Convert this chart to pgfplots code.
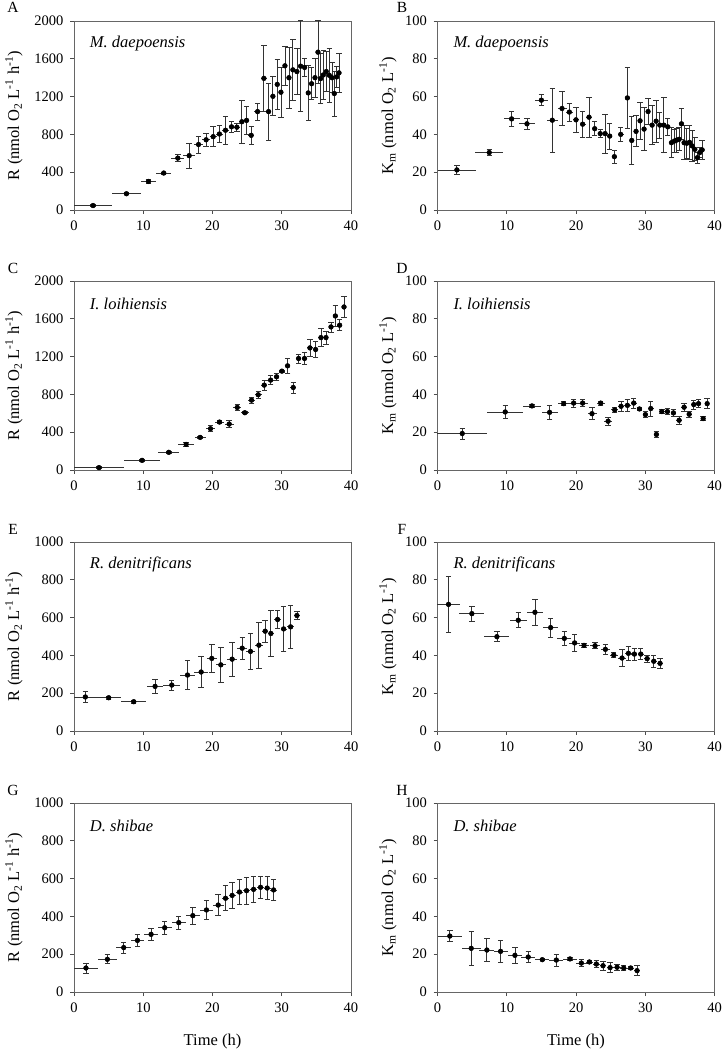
\documentclass[border=0pt]{standalone}
\usepackage{fontspec}
\setmainfont{Liberation Serif}
\usepackage{pgfplots}
\usepackage{pgfplotstable}
\pgfplotsset{compat=1.18}

\pgfplotstableread{
x y ex ey
2.75 47 2.8 8
7.57 172 2.05 10
10.75 302 1.1 20
12.96 391 1.1 10
14.99 549 0.95 36
16.63 575 0.85 133
17.98 693 0.65 90
19.08 743 0.55 68
20.10 776 0.5 108
21.00 804 0.45 90
21.88 844 0.45 149
22.75 880 0.4 57
23.52 876 0.38 45
24.24 934 0.35 226
24.92 948 0.34 149
25.59 790 0.4 95
26.51 1041 0.45 92
27.42 1393 0.4 345
28.10 1041 0.32 302
28.72 1203 0.31 206
29.35 1329 0.3 268
29.88 1246 0.28 266
30.46 1526 0.28 206
31.04 1400 0.28 323
31.61 1483 0.28 320
32.19 1465 0.28 242
32.72 1522 0.27 483
33.30 1508 0.27 99
33.83 1239 0.25 291
34.31 1336 0.25 171
34.80 1400 0.23 205
35.23 1670 0.2 334
35.61 1390 0.2 266
36.00 1429 0.2 257
36.43 1465 0.22 215
36.87 1425 0.2 287
37.25 1400 0.18 158
37.59 1232 0.17 237
37.93 1408 0.17 108
38.27 1451 0.17 203
}\tA

\pgfplotstableread{
x y ex ey
2.80 21.2 2.77 2.5
7.47 30.4 2.05 1.7
10.70 48.2 1.15 4.0
12.92 45.6 1.1 3.0
15.00 58.1 0.95 3.0
16.58 47.5 0.8 17
17.98 53.7 0.65 9
19.04 51.8 0.55 4.7
20.00 47.7 0.5 6.8
20.96 45.4 0.45 6.8
21.88 49.1 0.45 10.7
22.70 43.0 0.4 3.7
23.50 40.4 0.38 2.2
24.20 40.4 0.35 10.4
24.87 39.1 0.34 6.9
25.54 28.2 0.4 3.5
26.46 40.0 0.45 3.6
27.42 59.3 0.4 16
28.05 36.8 0.32 12.9
28.67 41.6 0.31 8.2
29.25 47.2 0.3 9.6
29.83 42.8 0.28 11.4
30.41 52.1 0.28 6.9
30.99 44.9 0.28 10.3
31.57 47.0 0.28 11.1
32.10 44.9 0.28 6.8
32.68 44.9 0.27 14.6
33.25 44.0 0.27 4.5
33.78 35.6 0.25 7.9
34.22 36.5 0.2 6.1
34.55 37.0 0.17 6.4
34.89 37.4 0.17 6.1
35.23 45.6 0.2 8.4
35.61 35.6 0.2 9.0
36.00 35.3 0.2 7.9
36.39 35.8 0.2 9.0
36.77 33.9 0.2 8.3
37.16 32.1 0.2 6.1
37.54 27.7 0.18 3.0
37.88 30.4 0.17 2.6
38.22 31.8 0.17 5.0
}\tB

\pgfplotstableread{
x y ex ey
3.61 25 3.6 8
9.83 102 2.6 10
13.69 187 1.5 12
16.19 271 1.2 26
18.22 345 0.8 15
19.71 437 0.7 30
21.01 507 0.7 15
22.41 486 0.65 37
23.57 662 0.6 35
24.67 606 0.55 12
25.64 739 0.5 32
26.60 796 0.48 39
27.47 898 0.45 53
28.39 951 0.45 48
29.25 986 0.42 35
30.02 1046 0.4 10
30.84 1102 0.4 83
31.66 873 0.4 58
32.43 1180 0.4 48
33.29 1180 0.4 67
34.07 1292 0.4 85
34.89 1275 0.4 88
35.66 1401 0.38 93
36.39 1401 0.36 70
37.11 1514 0.35 53
37.74 1630 0.32 114
38.36 1532 0.32 58
38.99 1725 0.3 113
}\tC

\pgfplotstableread{
x y ex ey
3.57 19.3 3.6 2.9
9.78 30.7 2.6 3.6
13.64 33.9 1.35 1.0
16.19 30.5 1.15 3.5
18.22 35.1 0.8 1.0
19.66 35.4 0.7 2.2
20.96 35.4 0.7 2.0
22.31 29.8 0.65 3.2
23.57 35.4 0.6 1.0
24.63 25.8 0.55 2.0
25.59 31.8 0.5 1.5
26.51 33.7 0.48 2.6
27.42 34.2 0.45 3.0
28.34 35.4 0.45 2.6
29.16 32.3 0.42 1.0
30.02 29.3 0.4 1.7
30.80 32.5 0.4 3.9
31.61 18.8 0.4 1.8
32.39 30.9 0.4 1.0
33.20 30.9 0.4 1.5
34.07 30.2 0.4 2.0
34.89 26.3 0.4 2.0
35.61 33.2 0.38 2.2
36.34 29.5 0.36 1.7
37.01 34.6 0.35 2.3
37.69 35.1 0.32 2.2
38.36 27.2 0.32 1.0
38.94 35.1 0.3 2.6
}\tD

\pgfplotstableread{
x y ex ey
1.64 180 1.6 30
5.01 176 1.8 8
8.63 155 1.8 8
11.71 236 1.1 38
14.12 243 1.25 26
16.39 296 1.1 78
18.36 312 1.0 82
19.90 384 0.75 72
21.20 350 0.75 93
22.84 380 0.75 90
24.29 438 0.7 59
25.49 421 0.6 97
26.70 454 0.6 121
27.61 528 0.45 59
28.43 516 0.45 123
29.40 590 0.45 46
30.27 540 0.45 119
31.28 551 0.45 112
32.19 611 0.45 21
}\tE

\pgfplotstableread{
x y ex ey
1.59 67.0 1.6 15
4.96 62.1 1.8 4.0
8.58 49.9 1.8 2.6
11.66 58.6 1.2 4.0
14.07 62.8 1.2 6.8
16.34 54.7 1.1 5.0
18.31 49.0 1.0 3.8
19.80 46.6 0.75 4.6
21.16 45.3 0.75 1.3
22.75 45.1 0.75 1.6
24.24 43.2 0.7 2.7
25.45 40.2 0.6 1.2
26.65 38.6 0.6 4.5
27.57 41.1 0.45 3.5
28.43 40.7 0.45 3.1
29.35 40.7 0.45 3.0
30.27 38.3 0.45 1.9
31.23 36.9 0.45 3.1
32.14 35.8 0.45 2.7
}\tF

\pgfplotstableread{
x y ex ey
1.73 127 1.78 26
4.82 173 1.4 24
7.18 235 1.1 29
9.16 273 1.0 33
11.13 305 1.0 34
13.10 340 1.0 34
15.13 367 1.0 35
17.16 404 1.0 44
19.13 434 1.0 50
20.82 460 0.8 57
21.88 496 0.55 66
22.84 511 0.5 67
23.90 529 0.5 67
24.92 536 0.5 70
25.93 543 0.5 69
26.94 554 0.5 60
27.90 550 0.5 62
28.82 540 0.48 55
}\tG

\pgfplotstableread{
x y ex ey
1.78 29.6 1.78 2.9
4.87 23.1 1.4 9.0
7.13 22.2 1.1 5.9
9.11 21.5 1.0 5.6
11.18 19.4 1.0 4.2
13.10 18.5 1.0 2.8
15.13 17.1 1.0 0.6
17.16 16.9 1.0 3.2
19.13 17.5 1.0 1.0
20.77 15.3 0.8 1.9
21.93 15.9 0.55 0.8
22.94 14.8 0.5 1.7
23.90 13.9 0.5 2.3
24.92 12.9 0.5 2.6
25.93 13.1 0.5 1.5
26.89 12.7 0.5 1.5
27.90 12.7 0.5 0.8
28.82 11.3 0.48 2.6
}\tH

\pgfplotsset{
  panel/.style={
    scale only axis, width=277pt, height=189pt, anchor=south west,
    xmin=0, xmax=40, xtick={0,10,20,30,40}, ymin=0,
    tick align=outside, tick pos=left, major tick length=4pt,
    axis line style={black!60, line width=0.7pt},
    every tick/.style={black!70, line width=0.7pt},
    clip=false,
    tick label style={font=\fontsize{14.5}{17}\selectfont},
    label style={font=\fontsize{16.5}{19}\selectfont},
    xticklabel style={yshift=-3pt},
    yticklabel style={xshift=-3pt},
    /pgf/number format/assume math mode=true,
    /pgf/number format/1000 sep={},
    scaled y ticks=false,
  },
  Rpanel/.style={panel, ymax=#1, ylabel={R (nmol O\textsubscript{2} L\textsuperscript{-1} h\textsuperscript{-1})},
    ylabel style={at={(rel axis cs:-0.2166,0.5)}, anchor=center}},
  Kpanel/.style={panel, ymax=100, ytick={0,20,40,60,80,100}, ylabel={K\textsubscript{m} (nmol O\textsubscript{2} L\textsuperscript{-1})},
    ylabel style={at={(rel axis cs:-0.179,0.5)}, anchor=center}},
  timelabel/.style={xlabel={Time (h)}, xlabel style={at={(rel axis cs:0.5,-0.262)}, anchor=center}},
}

\newcommand{\plotdata}[1]{%
  \addplot[black!80, only marks, mark=none, forget plot,
    error bars/.cd, x dir=both, x explicit, error mark=none,
    error bar style={black!80, line width=0.8pt}]
    table[x=x, y=y, x error=ex]{#1};
  \addplot[black, only marks, mark=*, mark size=2.4pt,
    error bars/.cd, y dir=both, y explicit,
    error mark options={rotate=90, black!80, mark size=2.7pt, line width=0.8pt},
    error bar style={black!80, line width=0.8pt}]
    table[x=x, y=y, y error=ey]{#1};
}
\newcommand{\species}[1]{\node[anchor=west, font=\fontsize{16.5}{19}\selectfont\itshape] at (rel axis cs:0.045,0.88) {#1};}

\begin{document}
\begin{tikzpicture}
\path[use as bounding box] (0pt,0pt) rectangle (722pt,1049pt);

\begin{axis}[Rpanel=2000, ytick={0,400,800,1200,1600,2000}, at={(74pt,839pt)}]
\plotdata{\tA}
\species{M. daepoensis}
\end{axis}
\begin{axis}[Kpanel, at={(437.5pt,839pt)}]
\plotdata{\tB}
\species{M. daepoensis}
\end{axis}

\begin{axis}[Rpanel=2000, ytick={0,400,800,1200,1600,2000}, at={(74pt,579pt)}]
\plotdata{\tC}
\species{I. loihiensis}
\end{axis}
\begin{axis}[Kpanel, at={(437.5pt,579pt)}]
\plotdata{\tD}
\species{I. loihiensis}
\end{axis}

\begin{axis}[Rpanel=1000, ytick={0,200,400,600,800,1000}, at={(74pt,318pt)}]
\plotdata{\tE}
\species{R. denitrificans}
\end{axis}
\begin{axis}[Kpanel, at={(437.5pt,318pt)}]
\plotdata{\tF}
\species{R. denitrificans}
\end{axis}

\begin{axis}[Rpanel=1000, ytick={0,200,400,600,800,1000}, at={(74pt,57pt)}, timelabel]
\plotdata{\tG}
\species{D. shibae}
\end{axis}
\begin{axis}[Kpanel, at={(437.5pt,57pt)}, timelabel]
\plotdata{\tH}
\species{D. shibae}
\end{axis}

\begin{scope}[font=\fontsize{15.5}{18}\selectfont]
\node at (13pt,1042pt) {A};
\node at (402pt,1042pt) {B};
\node at (13pt,781pt) {C};
\node at (402pt,781pt) {D};
\node at (13pt,520pt) {E};
\node at (402pt,520pt) {F};
\node at (13pt,259pt) {G};
\node at (402pt,259pt) {H};
\end{scope}
\end{tikzpicture}
\end{document}
